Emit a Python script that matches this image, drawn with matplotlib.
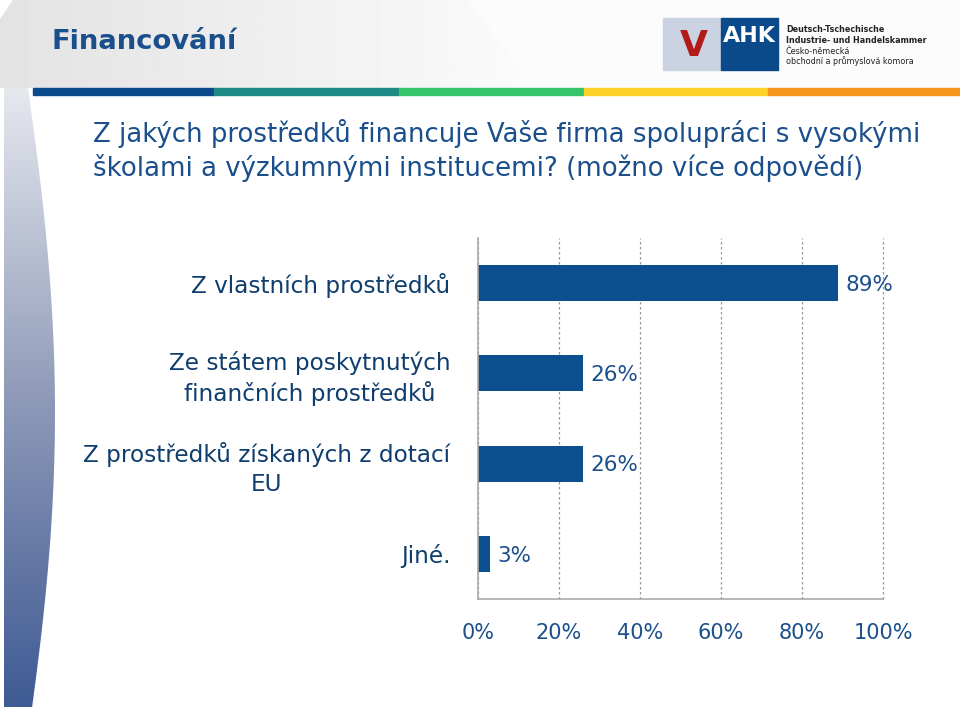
import numpy as np
import matplotlib.pyplot as plt
from matplotlib.patches import Rectangle, Polygon
from matplotlib.colors import LinearSegmentedColormap

categories = ["Z vlastních prostředků",
              "Ze státem poskytnutých\nfinančních prostředků",
              "Z prostředků získaných z dotací\nEU",
              "Jiné."]
values = [89, 26, 26, 3]
ticks = [0, 20, 40, 60, 80, 100]
tick_labels = ["0%", "20%", "40%", "60%", "80%", "100%"]

title = "Financování"
question = ["Z jakých prostředků financuje Vaše firma spolupráci s vysokými",
            "školami a výzkumnými institucemi? (možno více odpovědí)"]
strip_colors = ["#0a4a8a", "#1e8a86", "#35c46a", "#fdd22a", "#f7941d"]
strip_edges = [33, 214, 399, 584, 768, 960]

bar_color = "#0b4f8e"
W, H = 960, 711

fig = plt.figure(figsize=(9.6, 7.11), dpi=100)

# background layer in pixel coords
bg = fig.add_axes([0, 0, 1, 1], zorder=0)
bg.set_xlim(0, W)
bg.set_ylim(H, 0)
bg.axis("off")

# header gradient
grad = np.linspace(0.89, 0.985, 256).reshape(1, -1)
bg.imshow(grad, extent=[0, 540, 88, 0], cmap="gray", vmin=0, vmax=1,
          aspect="auto", zorder=0)
bg.add_patch(Polygon([[470, 0], [960, 0], [960, 88], [533, 88]],
                     closed=True, color="#fcfcfc", zorder=1))
bg.add_patch(Polygon([[0, 0], [12, 0], [0, 18]], closed=True,
                     color="white", zorder=1))

# colour strip
for i, c in enumerate(strip_colors):
    bg.add_patch(Rectangle((strip_edges[i], 88), strip_edges[i + 1] - strip_edges[i], 7,
                           color=c, zorder=2))

# left crescent with vertical gradient
ys = np.linspace(88, 707, 200)
right = 5 + 50 * np.sin(np.pi * (ys - 88) / (707 - 88) * 0.62 + 0.55) ** 1.2
right = np.clip(right, 5, None)
verts = [[4, 88]] + [[r, y] for r, y in zip(right, ys)] + [[4, 707]]
crescent = Polygon(verts, closed=True, facecolor="none", edgecolor="none", zorder=1)
bg.add_patch(crescent)
vg = np.linspace(0, 1, 256).reshape(-1, 1)
cm = LinearSegmentedColormap.from_list("sh", ["#e6e8ee", "#8e9ab8", "#3f5a94"])
im = bg.imshow(vg, extent=[0, 60, 707, 88], cmap=cm, aspect="auto", zorder=1)
im.set_clip_path(crescent)

# title
bg.text(52, 42, title, fontsize=19.7, fontweight="bold", color="#1a4f8c",
        va="center", ha="left", zorder=3)

# logo
bg.add_patch(Rectangle((663, 18), 58, 52, color="#c9d3e2", zorder=3))
bg.add_patch(Rectangle((721, 18), 57, 52, color="#0a4a8a", zorder=3))
bg.text(694, 46, "V", fontsize=26, fontweight="bold", color="#b31b1b",
        ha="center", va="center", zorder=4)
bg.text(749, 36, "AHK", fontsize=16, fontweight="bold", color="white",
        family="Liberation Sans Narrow", ha="center", va="center", zorder=4)
logo_lines = [("Deutsch-Tschechische", "bold"), ("Industrie- und Handelskammer", "bold"),
              ("Česko-německá", "normal"), ("obchodní a průmyslová komora", "normal")]
for k, (t, w) in enumerate(logo_lines):
    bg.text(786, 30 + k * 10.5, t, fontsize=5.8, fontweight=w, color="#222222",
            family="Liberation Sans Narrow", ha="left", va="center", zorder=4)

# question
for k, line in enumerate(question):
    bg.text(93, 133 + k * 35, line, fontsize=18.7, color="#1a4f8c",
            ha="left", va="center", zorder=3)

# chart
ax = fig.add_axes([478 / W, 1 - 599 / H, (883 - 478) / W, (599 - 238) / H], zorder=2)
ax.patch.set_alpha(0)
y = np.arange(len(categories))
ax.barh(y, values, height=0.4, color=bar_color)
ax.set_ylim(len(categories) - 0.5, -0.5)
ax.set_xlim(0, 100)
ax.set_xticks(ticks)
ax.set_xticklabels(tick_labels, fontsize=15, color="#1a4f8c")
ax.set_yticks(y)
ax.set_yticklabels(categories, fontsize=16.7, color="#0f3e6e",
                   multialignment="center", linespacing=1.3)
ax.tick_params(axis="both", length=0)
ax.tick_params(axis="x", pad=17)
ax.tick_params(axis="y", pad=20)
ax.xaxis.grid(True, linestyle=(0, (2, 2)), color="#999999", linewidth=0.9)
for gl in ax.get_xgridlines():
    gl.set_clip_on(False)
ax.set_axisbelow(True)
for s in ["top", "right"]:
    ax.spines[s].set_visible(False)
for s in ["left", "bottom"]:
    ax.spines[s].set_color("#aaaaaa")
    ax.spines[s].set_linewidth(1.2)
for yi, v in zip(y, values):
    ax.text(v + 1.8, yi + 0.02, f"{v}%", fontsize=15.5, color="#1a4f8c",
            ha="left", va="center")

fig.savefig("out.png", dpi=100)
